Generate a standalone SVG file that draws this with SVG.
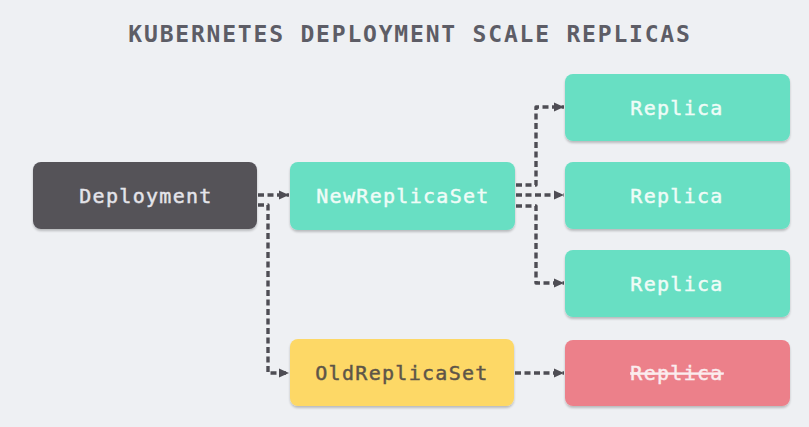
<svg xmlns="http://www.w3.org/2000/svg" width="809" height="427" viewBox="0 0 809 427">
<style>
.t{font-family:"DejaVu Sans Mono","Liberation Mono",monospace;font-size:20px;letter-spacing:1.3px;text-anchor:middle;dominant-baseline:central;stroke-width:0.45px}
.title{font-family:"DejaVu Sans Mono","Liberation Mono",monospace;font-size:23px;font-weight:bold;letter-spacing:1.8px;fill:#5d5d66;text-anchor:middle}
.c{fill:none;stroke:#4e4d54;stroke-width:3.4;stroke-dasharray:6 3.5;stroke-linejoin:round;marker-end:url(#ah)}
</style>
<defs>
<marker id="ah" markerUnits="userSpaceOnUse" markerWidth="12" markerHeight="12" refX="10" refY="6" orient="auto">
<path d="M0,1.5 L10,6 L0,10.5 Z" fill="#4e4d54"/>
</marker>
<filter id="sh" x="-5%" y="-10%" width="110%" height="130%">
<feDropShadow dx="0" dy="2" stdDeviation="1.2" flood-color="#000" flood-opacity="0.22"/>
</filter>
</defs>
<rect width="809" height="427" fill="#eef0f3"/>
<text class="title" x="410" y="42">KUBERNETES DEPLOYMENT SCALE REPLICAS</text>
<g id="connectors">
<path class="c" d="M258,195 H289"/>
<path class="c" d="M258,205 H268 V373 H289"/>
<path class="c" d="M516,185 H536 V107 H564"/>
<path class="c" d="M516,195 H564"/>
<path class="c" d="M516,206 H536 V283 H564"/>
<path class="c" d="M515,373 H564"/>
</g>
<g id="deployment">
<rect x="33" y="162" width="224" height="67" rx="8" fill="#545259" filter="url(#sh)"/>
<text class="t" x="146" y="196" fill="#e4e4ea" stroke="#e4e4ea">Deployment</text>
</g>
<g id="newreplicaset">
<rect x="290" y="162" width="225" height="68" rx="8" fill="#67dfc3" filter="url(#sh)"/>
<text class="t" x="403" y="196" fill="#effcf7" stroke="#effcf7">NewReplicaSet</text>
</g>
<g id="replica1">
<rect x="565" y="74" width="225" height="67" rx="8" fill="#67dfc3" filter="url(#sh)"/>
<text class="t" x="677" y="108" fill="#effcf7" stroke="#effcf7">Replica</text>
</g>
<g id="replica2">
<rect x="565" y="162" width="225" height="67" rx="8" fill="#67dfc3" filter="url(#sh)"/>
<text class="t" x="677" y="196" fill="#effcf7" stroke="#effcf7">Replica</text>
</g>
<g id="replica3">
<rect x="565" y="250" width="225" height="67" rx="8" fill="#67dfc3" filter="url(#sh)"/>
<text class="t" x="677" y="284" fill="#effcf7" stroke="#effcf7">Replica</text>
</g>
<g id="oldreplicaset">
<rect x="290" y="339" width="224" height="67" rx="8" fill="#fdd866" filter="url(#sh)"/>
<text class="t" x="402" y="373" fill="#5d5548" stroke="#5d5548">OldReplicaSet</text>
</g>
<g id="replica-old">
<rect x="565" y="340" width="225" height="66" rx="8" fill="#ec808a" filter="url(#sh)"/>
<text class="t" x="677" y="373" fill="#fbecee" stroke="#fbecee" text-decoration="line-through">Replica</text>
</g>
</svg>
